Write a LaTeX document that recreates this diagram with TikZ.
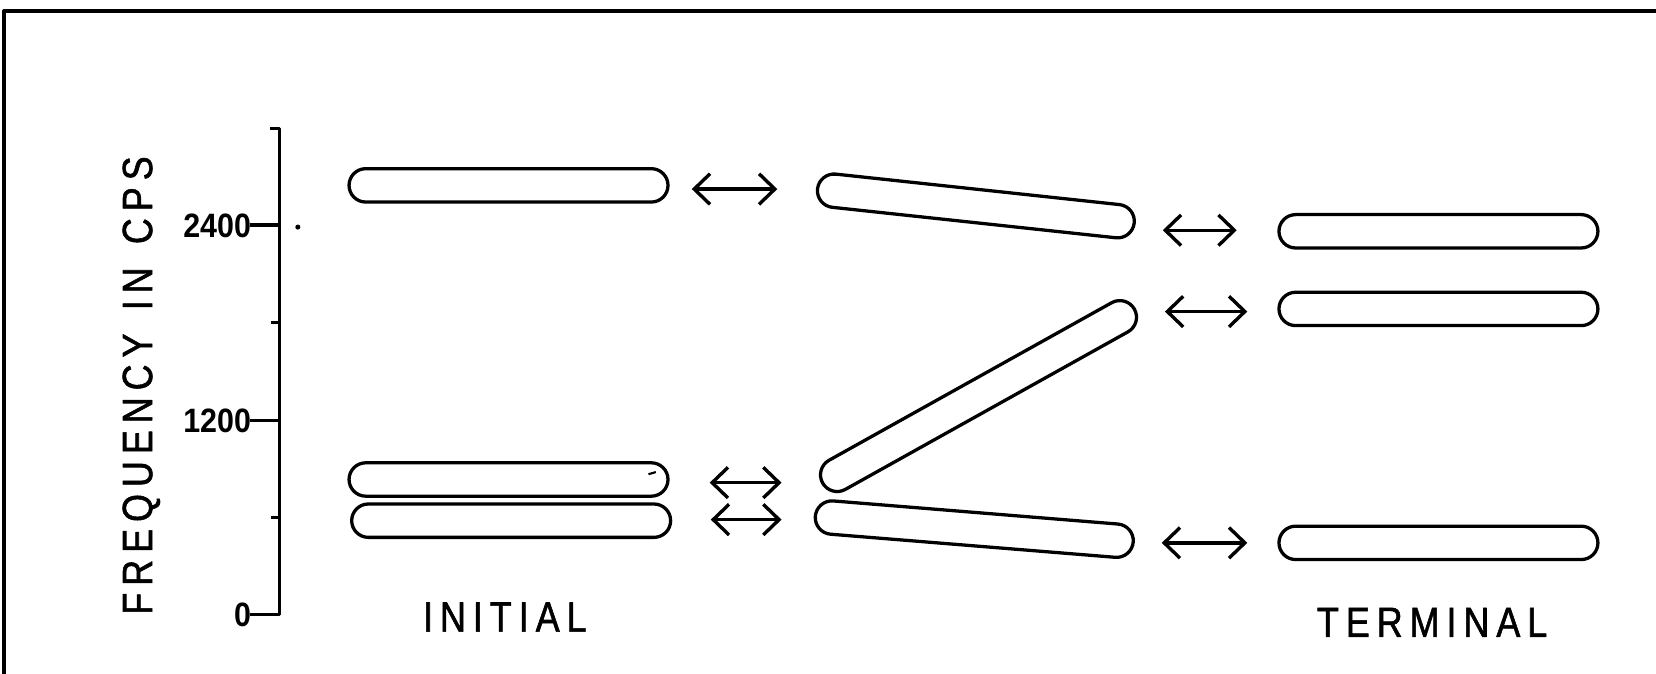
\documentclass[tikz,border=0pt]{standalone}
\usepackage{fontspec}
\usetikzlibrary{arrows.meta,shapes.misc}
% stencil-like lettering: narrowed sans with open tracking
\newfontfamily\lettering[FakeStretch=0.85,FakeBold=1.3]{Liberation Sans}
\newfontfamily\digitfont[FakeStretch=0.9]{Liberation Sans}
\newlength\trackamt
\setlength\trackamt{3.3pt}
% typeset a word letter by letter with a fixed gap after each letter
\def\spaceout#1{\ifx#1\relax\else#1\kern\trackamt\expandafter\spaceout\fi}

\begin{document}
\begin{tikzpicture}[x=0.5pt, y=-0.5pt, line join=round,
  bar/.style={draw, rounded rectangle, line width=1.55pt, inner sep=0pt,
    minimum height=15.8pt, minimum width=151pt},
  dblarrow/.style={line width=1.6pt,
    {Straight Barb[length=7.5pt,width=14.5pt]}-{Straight Barb[length=7.5pt,width=14.5pt]}},
  axis/.style={line width=1.5pt},
  lbl/.style={font=\lettering\fontsize{20pt}{24pt}\selectfont, inner sep=0pt},
  num/.style={font=\digitfont\bfseries\fontsize{16pt}{19pt}\selectfont, inner sep=0pt}]
\useasboundingbox (0,0) rectangle (1568,638);

% outer frame (top and left edges)
\draw[line width=1.6pt] (3.8,700) -- (3.8,10.4) -- (1600,10.4);

% frequency axis
\draw[axis] (256,122) -- (265,122) -- (265,582) -- (237,582);
\draw[axis] (237,213) -- (265,213);
\draw[axis] (257,305.5) -- (265,305.5);
\draw[axis] (237,398) -- (265,398);
\draw[axis] (257,490) -- (265,490);
\node[num, anchor=base east] (f2400) at (238,224.5) {2400};
\node[num, anchor=base east] (f1200) at (238,409.5) {1200};
\node[num, anchor=base east] (f0) at (238,593.5) {0};
\fill (282,215) circle[radius=1.2pt];

\node[lbl, anchor=base, rotate=90] (ylabel) at (144,365)
  {\spaceout FREQUENCY\relax\hspace{7.7pt}\spaceout IN\relax\hspace{7.7pt}\spaceout CPS\relax\kern-\trackamt};

% initial formants
\node[bar] (i1) at (481.5,175.5) {};
\node[bar] (i2) at (481.5,454) {};
\node[bar] (i3) at (484,493) {};
\draw[line width=1pt] (614,449) -- (621,447);

% transitions
\node[bar, minimum width=150.8pt, rotate=-6.13] (m1) at (924,195) {};
\node[bar, minimum width=169pt, rotate=29.14] (m2) at (926.5,375) {};
\node[bar, minimum width=151pt, rotate=-4.64] (m3) at (922.5,501) {};

% terminal formants
\node[bar] (t1) at (1362,219) {};
\node[bar] (t2) at (1362,292.5) {};
\node[bar] (t3) at (1362,514) {};

% correspondence arrows
\coordinate (a1s) at (655,179);  \coordinate (a1e) at (736,179);
\coordinate (a2s) at (672,457);  \coordinate (a2e) at (740,457);
\coordinate (a3s) at (673,492);  \coordinate (a3e) at (740,492);
\coordinate (a4s) at (1101,218); \coordinate (a4e) at (1171,218);
\coordinate (a5s) at (1103,295); \coordinate (a5e) at (1181,295);
\coordinate (a6s) at (1100,514); \coordinate (a6e) at (1181,514);
\draw[dblarrow] (a1s) -- (a1e);
\draw[dblarrow] (a2s) -- (a2e);
\draw[dblarrow] (a3s) -- (a3e);
\draw[dblarrow] (a4s) -- (a4e);
\draw[dblarrow] (a5s) -- (a5e);
\draw[dblarrow] (a6s) -- (a6e);

% stage labels
\node[lbl, anchor=base] (initial) at (478,598) {\spaceout INITIAL\relax\kern-\trackamt};
\node[lbl, anchor=base] (terminal) at (1356,603) {\spaceout TERMINAL\relax\kern-\trackamt};
\end{tikzpicture}
\end{document}
